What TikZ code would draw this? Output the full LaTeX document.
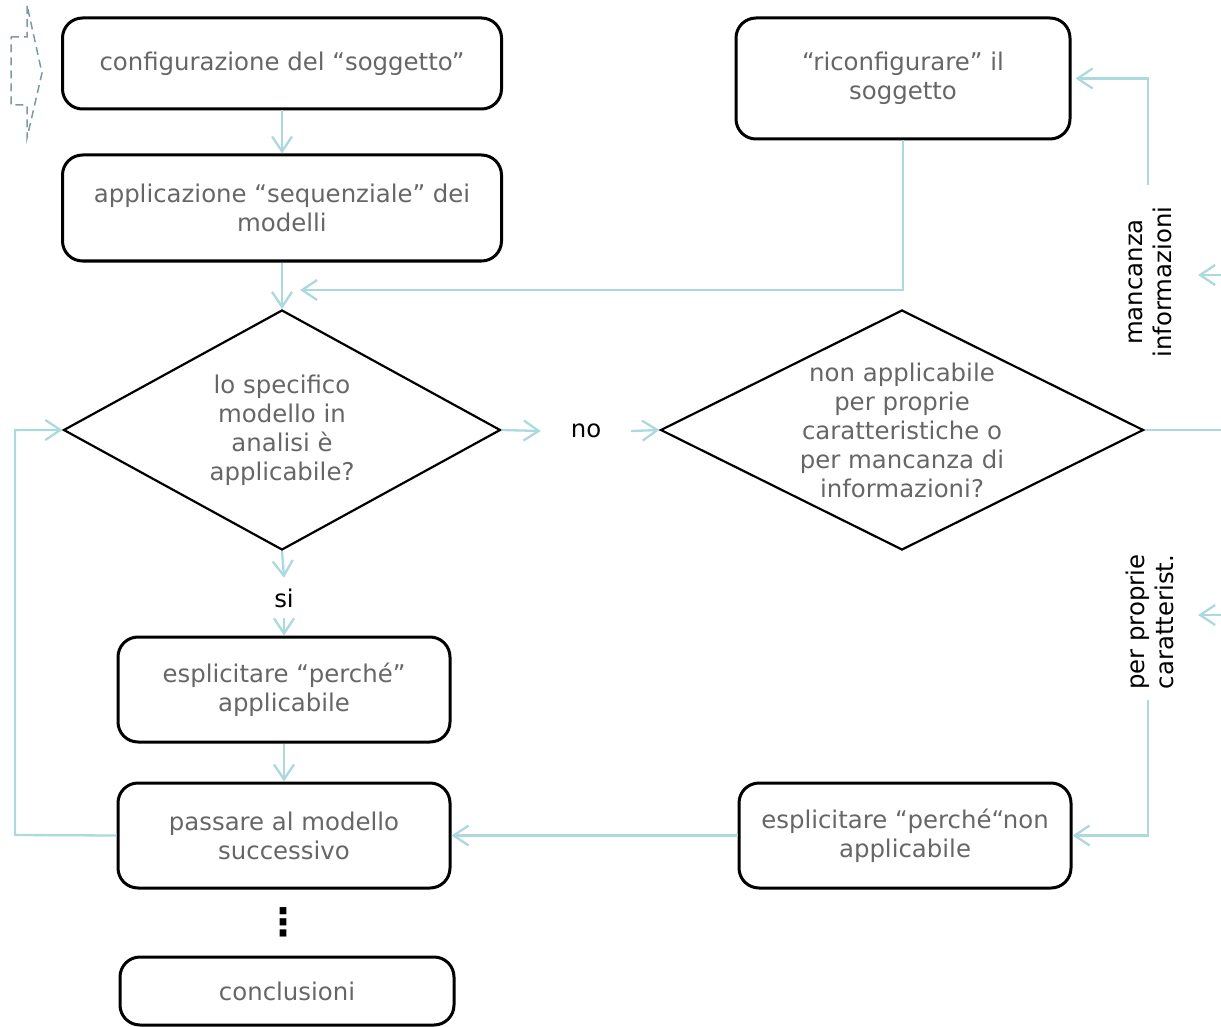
\documentclass[tikz,border=0pt]{standalone}
\usepackage{fontspec}
\setmainfont{DejaVu Sans}
\usetikzlibrary{arrows.meta,shapes.geometric}

\definecolor{freccia}{RGB}{172,217,222}
\definecolor{testo}{RGB}{102,102,102}
\definecolor{tratteggio}{RGB}{125,155,158}

\begin{document}
\begin{tikzpicture}[x=1pt, y=-1pt, >={Straight Barb[length=15pt,width=20pt]},
    font=\fontsize{24.4}{29}\selectfont,
    box/.style={draw, line width=3pt, rounded corners=20pt, text=testo, align=center, inner sep=0pt},
    scelta/.style={draw, diamond, line width=2.2pt, text=testo, align=center, inner sep=0pt},
    flow/.style={->, freccia, line width=2.3pt},
    etichetta/.style={text=black, align=center, inner sep=0pt}]
    \useasboundingbox (0,0) rectangle (1221,1027);

    % Freccia tratteggiata (ingresso)
    \draw[tratteggio, line width=1.5pt, dash pattern=on 8pt off 5pt]
        (11,37) -- (27,37) -- (27,5) -- (42,73) -- (27,138) -- (27,105) -- (11,105) -- cycle;

    % Colonna sinistra
    \node[box, minimum width=439pt, minimum height=91pt] (conf) at (282,63.5) {configurazione del “soggetto”};
    \node[box, minimum width=439pt, minimum height=106pt] (appl) at (282,208) {applicazione “sequenziale” dei\\modelli};
    \node[scelta, minimum width=437pt, minimum height=240pt, aspect=1.82] (applic) at (282,430)
        {lo specifico\\modello in\\analisi è\\applicabile?};
    \node[box, minimum width=332pt, minimum height=105pt] (perche) at (284,689.5) {esplicitare “perché”\\applicabile};
    \node[box, minimum width=332pt, minimum height=105pt] (passa) at (284,835.5) {passare al modello\\successivo};
    \node[etichetta, font=\fontsize{38}{38}\bfseries] (puntini) at (283,922) {⋮};
    \node[box, minimum width=334pt, minimum height=68pt] (concl) at (287,991) {conclusioni};

    % Colonna destra
    \node[box, minimum width=334pt, minimum height=121pt] (riconf) at (903,78.5) {“riconfigurare” il\\soggetto};
    \node[scelta, minimum width=483pt, minimum height=240pt, aspect=2.01] (nonappl) at (902,430)
        {non applicabile\\per proprie\\caratteristiche o\\per mancanza di\\informazioni?};
    \node[box, minimum width=332pt, minimum height=105pt] (perchenon) at (905,835.5) {esplicitare “perché“non\\applicabile};

    % Etichette
    \node[etichetta, minimum width=90pt] (no) at (586,431) {no};
    \node[etichetta, minimum height=40pt] (si) at (284,598) {si};
    \node[etichetta, rotate=90] (manc) at (1150,282) {mancanza\\informazioni};
    \node[etichetta, rotate=90] (caratt) at (1150,622) {per proprie\\caratterist.};

    % Punti di appoggio
    \coordinate (rientro) at (300,290);
    \coordinate (anello) at (15,835);
    \coordinate (bordo) at (1221,430);
    \coordinate (suManc) at (1148,185);
    \coordinate (giuCar) at (1148,700);
    \coordinate (fuori1) at (1221,275);
    \coordinate (fuori2) at (1221,615);

    % Connettori
    \draw[flow] (conf) -- (appl);
    \draw[flow] (appl) -- (applic);
    \draw[flow] (riconf.south) |- (rientro);
    \draw[flow] (applic.east) -- (no.west);
    \draw[flow] (no.east) -- (nonappl.west);
    \draw[flow] (applic.south) -- (si.north);
    \draw[flow] (si.south) -- (perche.north);
    \draw[flow] (perche) -- (passa);
    \draw[flow] (passa.west) -- (anello) |- (applic.west);
    \draw[flow] (perchenon.west) -- (passa.east);
    \draw[freccia, line width=2.3pt] (nonappl.east) -- (bordo);
    \draw[flow] (suManc) |- ([xshift=4pt]riconf.east);
    \draw[flow] (giuCar) |- (perchenon.east);
    \draw[flow] (fuori1) -- ++(-23,0);
    \draw[flow] (fuori2) -- ++(-23,0);
\end{tikzpicture}
\end{document}
